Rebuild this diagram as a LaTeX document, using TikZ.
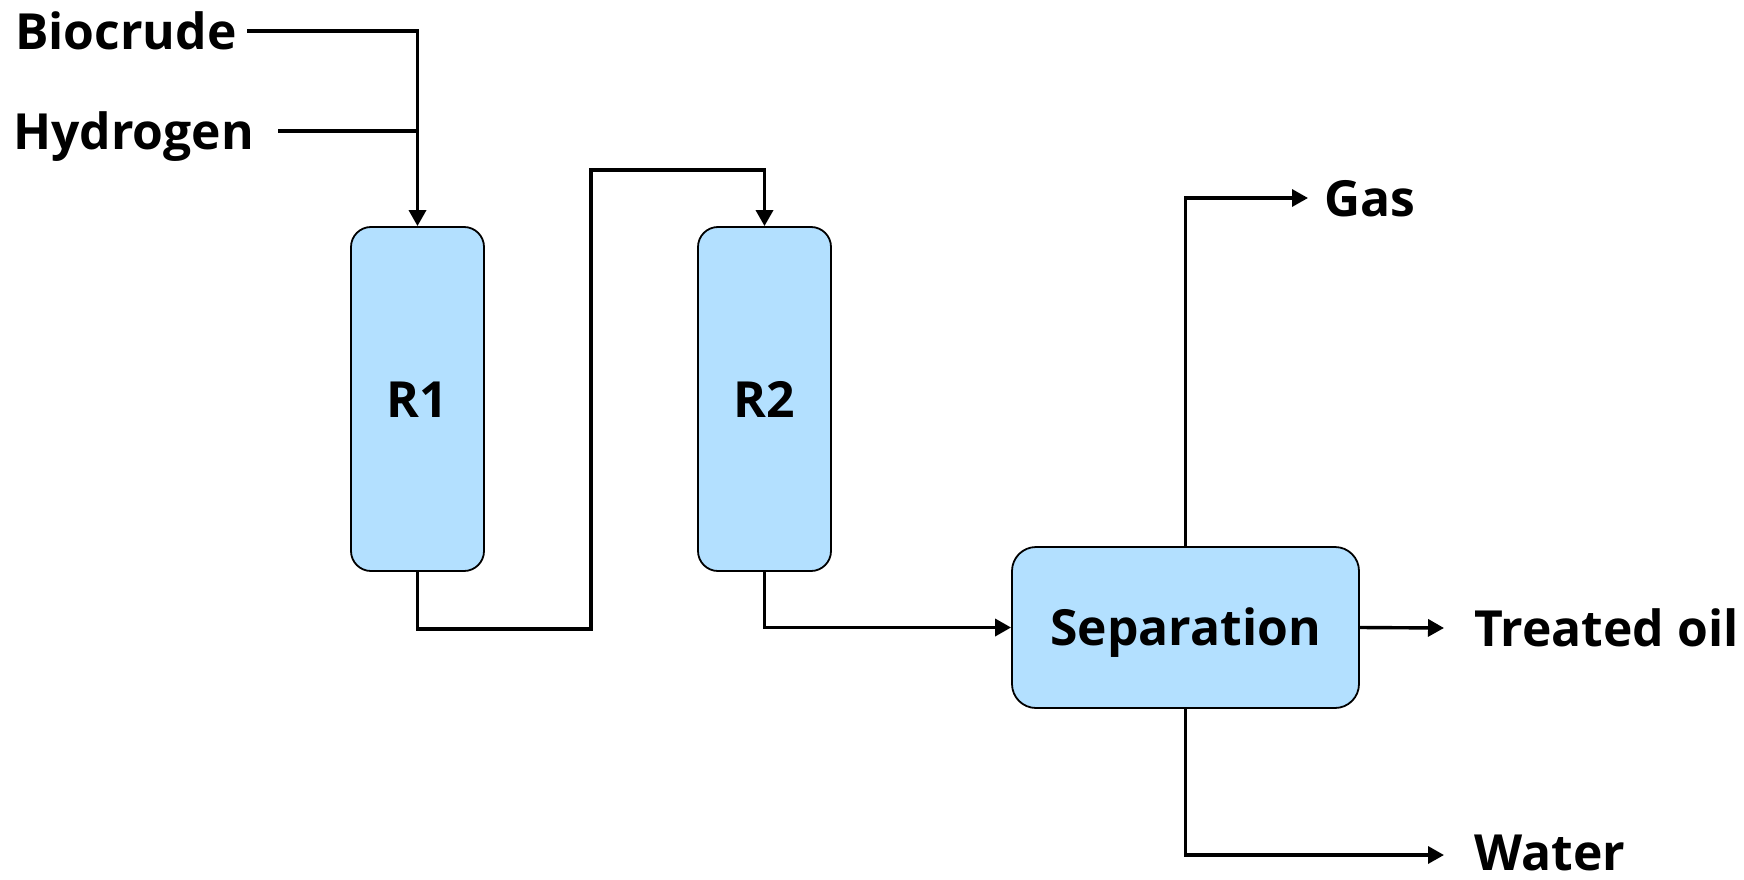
\documentclass[tikz,border=0pt]{standalone}
\usepackage{fontspec}
\setmainfont{Open Sans}
\usetikzlibrary{arrows.meta}
\definecolor{boxfill}{RGB}{179,224,255}
\begin{document}
\begin{tikzpicture}[x=1bp,y=-1bp,
  lbl/.style={font=\fontsize{50}{60}\selectfont\bfseries, text height=36bp, text depth=0bp, inner sep=0pt},
  unit/.style={draw=black, line width=1.8bp, fill=boxfill, rounded corners=#1, inner sep=0pt,
    font=\fontsize{50}{60}\selectfont\bfseries, text height=36bp, text depth=0bp},
  unit/.default=20bp,
  flow/.style={line width=3.4bp},
  flowarrow/.style={flow, -{Triangle[length=16bp,width=17bp]}}
]
\useasboundingbox (0,0) rectangle (1744,879);
% units
\node[unit, minimum width=133bp, minimum height=344bp] (r1) at (417.5,399) {R1};
\node[unit, minimum width=133bp, minimum height=344bp] (r2) at (764.5,399) {R2};
\node[unit=24bp, minimum width=347bp, minimum height=161bp] (sep) at (1185.5,627.5) {Separation};
% labels
\node[lbl, anchor=west] (bio) at (15,31) {Biocrude};
\node[lbl, anchor=west] (hyd) at (13,131) {Hydrogen};
\node[lbl, anchor=west] (gas) at (1324,198) {Gas};
\node[lbl, anchor=west] (oil) at (1474,628) {Treated oil};
\node[lbl, anchor=west] (wat) at (1474,852) {Water};
% connector end points
\coordinate (bioS) at (247,31);
\coordinate (hydS) at (278,131);
\coordinate (gasE) at (1308,198);
\coordinate (oilE) at (1444,628);
\coordinate (watE) at (1444,855);
% flows
\draw[flowarrow] (bioS) -| (r1.north);
\draw[flow] (hydS) -- (hydS -| r1.north);
\draw[flowarrow] (r1.south) -- ++(0,57) -| (591,170) -| (r2.north);
\draw[flowarrow] (r2.south) |- (sep.west);
\draw[flowarrow] (sep.north) |- (gasE);
\draw[flowarrow] (sep.east) -- (oilE);
\draw[flowarrow] (sep.south) |- (watE);
\end{tikzpicture}
\end{document}
